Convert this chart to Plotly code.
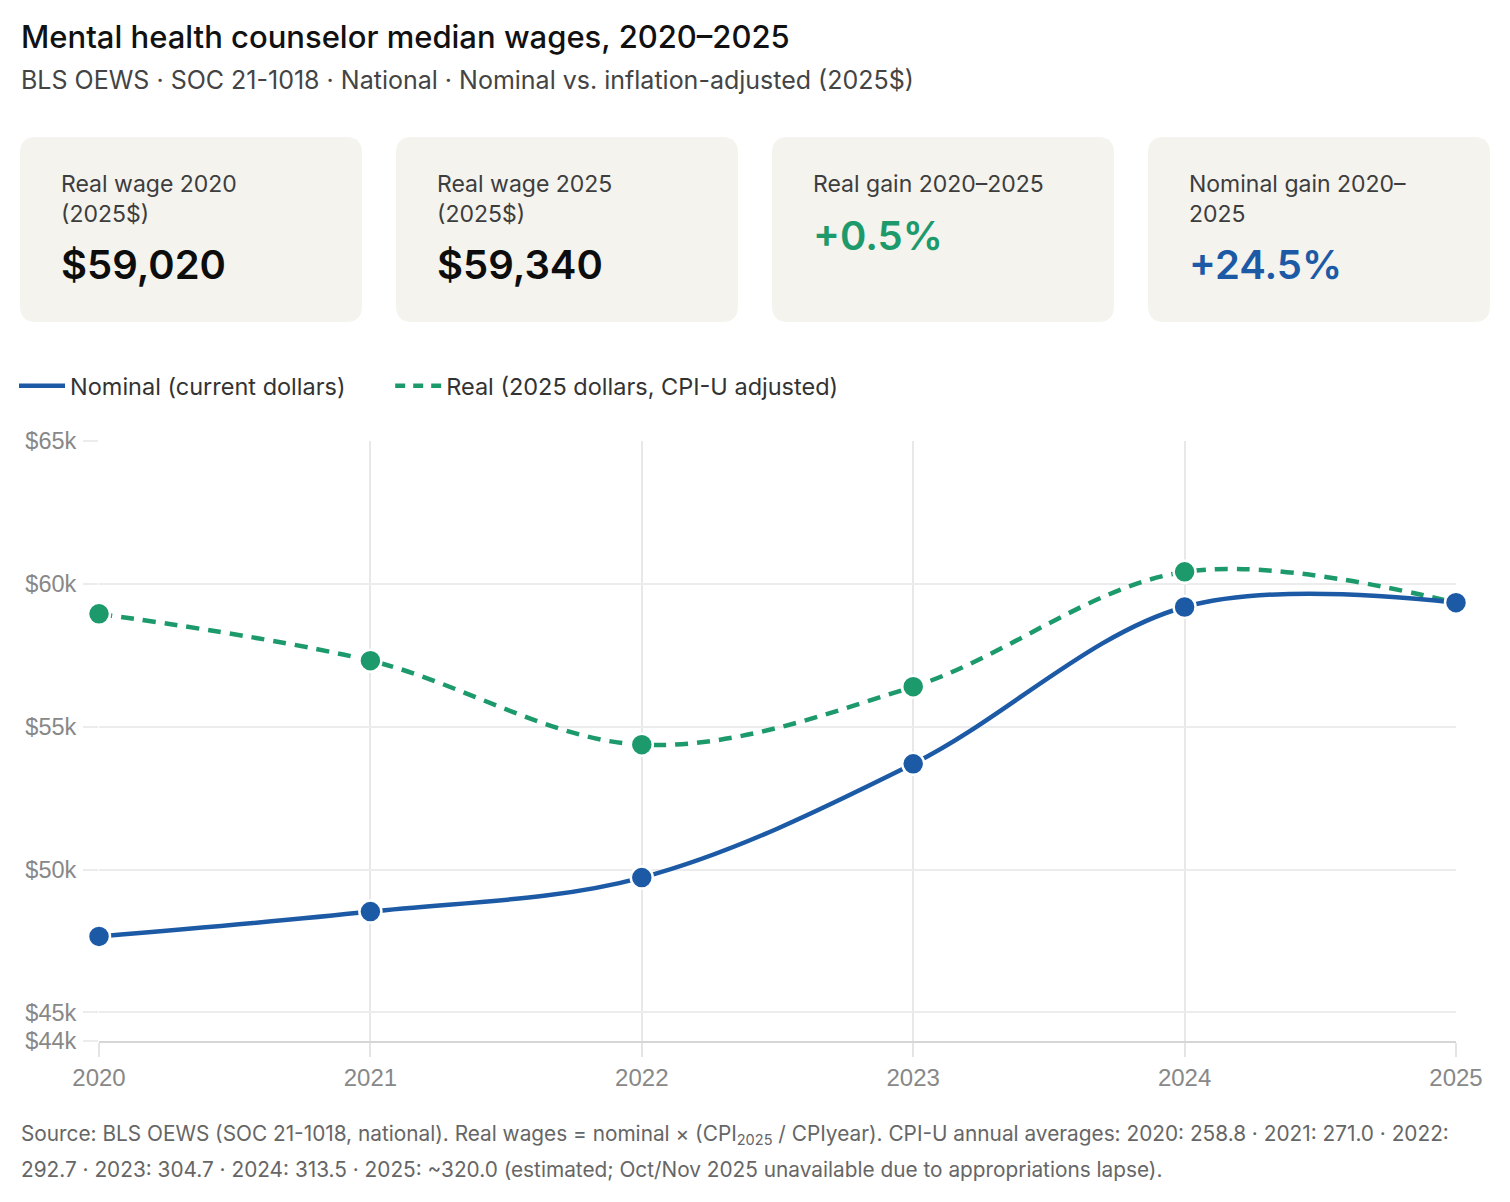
import plotly.graph_objects as go

years = [2020, 2021, 2022, 2023, 2024, 2025]
nominal = [47660, 48530, 49720, 53700, 59190, 59340]
real = [58950, 57310, 54370, 56400, 60420, 59340]
y_ticks = [44000, 45000, 50000, 55000, 60000, 65000]
y_tick_labels = ["$44k", "$45k", "$50k", "$55k", "$60k", "$65k"]

card_labels = ["Real wage 2020<br>(2025$)", "Real wage 2025<br>(2025$)",
               "Real gain 2020–2025", "Nominal gain 2020–<br>2025"]
card_values = ["$59,020", "$59,340", "+0.5%", "+24.5%"]

legend_names = ["Nominal (current dollars)", "Real (2025 dollars, CPI-U adjusted)"]

footnote_lines = [
    "Source: BLS OEWS (SOC 21-1018, national). Real wages = nominal × (CPI<sub>2025</sub> / CPIyear). "
    "CPI-U annual averages: 2020: 258.8 · 2021: 271.0 · 2022:",
    "292.7 · 2023: 304.7 · 2024: 313.5 · 2025: ~320.0 (estimated; Oct/Nov 2025 unavailable due to "
    "appropriations lapse).",
]

BLUE = "#1c5aa6"
GREEN = "#1c9a6c"
CARD_BG = "#f4f3ee"
FONT = "Inter, Roboto, sans-serif"
TICKFONT = "Liberation Sans, Arial, sans-serif"

W, H = 1510, 1202
L, R, T, B = 99, 1456, 441, 1041


def px(x):
    return (x - L) / (R - L)


def py(y):
    return (B - y) / (B - T)


fig = go.Figure()

fig.add_trace(go.Scatter(
    x=years, y=real, mode="lines+markers", line=dict(color=GREEN, width=4.5, shape="spline", dash="13px,9px"),
    marker=dict(size=22, color=GREEN, line=dict(color="white", width=2.5)),
    showlegend=False, cliponaxis=False, hoverinfo="x+y"))
fig.add_trace(go.Scatter(
    x=years, y=nominal, mode="lines+markers", line=dict(color=BLUE, width=4.5, shape="spline"),
    marker=dict(size=22, color=BLUE, line=dict(color="white", width=2.5)),
    showlegend=False, cliponaxis=False, hoverinfo="x+y"))

# legend entries (padding with non-breaking spaces to reproduce the spacing between entries)
fig.add_trace(go.Scatter(x=[None], y=[None], mode="lines", name=legend_names[0] + "\u00a0" * 6,
                         line=dict(color=BLUE, width=4.5)))
fig.add_trace(go.Scatter(x=[None], y=[None], mode="lines", name=legend_names[1],
                         line=dict(color=GREEN, width=4.5, dash="10px,8px")))

shapes = []
annotations = []

# cards
card_x = [(20, 362), (396, 738), (772, 1114), (1148, 1490)]
cy0, cy1 = 137, 322
rad = 16
for i, (x0, x1) in enumerate(card_x):
    rx = rad / (R - L)
    ry = rad / (B - T)
    X0, X1 = px(x0), px(x1)
    Y0, Y1 = py(cy1), py(cy0)
    path = (f"M {X0+rx},{Y0} L {X1-rx},{Y0} Q {X1},{Y0} {X1},{Y0+ry} "
            f"L {X1},{Y1-ry} Q {X1},{Y1} {X1-rx},{Y1} L {X0+rx},{Y1} "
            f"Q {X0},{Y1} {X0},{Y1-ry} L {X0},{Y0+ry} Q {X0},{Y0} {X0+rx},{Y0} Z")
    shapes.append(dict(type="path", path=path, xref="paper", yref="paper",
                       fillcolor=CARD_BG, line=dict(width=0), layer="below"))
    annotations.append(dict(text=card_labels[i], x=px(x0 + 39), y=py(168), xref="paper", yref="paper",
                            xanchor="left", yanchor="top", showarrow=False, align="left",
                            font=dict(family=FONT, size=23, color="#3d3d3d")))
    two_line = "<br>" in card_labels[i]
    vy = 264 if two_line else 235
    vcolor = "#0d0d0d"
    if i == 2:
        vcolor = GREEN
    elif i == 3:
        vcolor = BLUE
    annotations.append(dict(text=card_values[i], x=px(x0 + 39), y=py(vy), xref="paper", yref="paper",
                            xanchor="left", yanchor="middle", showarrow=False,
                            font=dict(family=FONT, size=40, color=vcolor, weight=600)))

# title & subtitle
annotations.append(dict(text="Mental health counselor median wages, 2020–2025", x=px(19), y=py(36),
                        xref="paper", yref="paper", xanchor="left", yanchor="middle", showarrow=False,
                        font=dict(family=FONT, size=31, color="#111111", weight=500)))
annotations.append(dict(text="BLS OEWS · SOC 21-1018 · National · Nominal vs. inflation-adjusted (2025$)",
                        x=px(19), y=py(80), xref="paper", yref="paper", xanchor="left", yanchor="middle",
                        showarrow=False, font=dict(family=FONT, size=25, color="#444444")))

# footnote
for k, line in enumerate(footnote_lines):
    annotations.append(dict(
        text=line, x=px(19), y=py(1135 + 34 * k), xref="paper", yref="paper",
        xanchor="left", yanchor="middle", showarrow=False, align="left",
        font=dict(family=FONT, size=20.8, color="#666666")))

fig.update_layout(
    width=W, height=H,
    margin=dict(l=L, r=W - R, t=T, b=H - B),
    paper_bgcolor="white", plot_bgcolor="white",
    shapes=shapes, annotations=annotations,
    showlegend=True,
    legend=dict(orientation="h", x=px(14), y=py(386), xanchor="left", yanchor="middle",
                font=dict(family=FONT, size=23.5, color="#333333"), itemwidth=46,
                bgcolor="rgba(0,0,0,0)"),
    hovermode="closest",
)
fig.update_xaxes(range=[2020, 2025], tickvals=years, ticktext=[str(y) for y in years],
                 showgrid=True, gridcolor="#e8e8e8", gridwidth=1.5,
                 ticks="outside", ticklen=14, tickcolor="#e4e4e4", tickwidth=1.5,
                 showline=True, linecolor="#d6d6d6", linewidth=2,
                 tickfont=dict(family=TICKFONT, size=24, color="#888888"), zeroline=False)
fig.update_yaxes(range=[44000, 65000], tickvals=y_ticks, ticktext=y_tick_labels,
                 showgrid=True, gridcolor="#ececec", gridwidth=1.5,
                 ticks="outside", ticklen=15, tickcolor="#ececec", tickwidth=1.5,
                 ticklabelstandoff=2,
                 tickfont=dict(family=TICKFONT, size=23.5, color="#888888"), zeroline=False,
                 showline=False)

fig.write_html("out.html")
